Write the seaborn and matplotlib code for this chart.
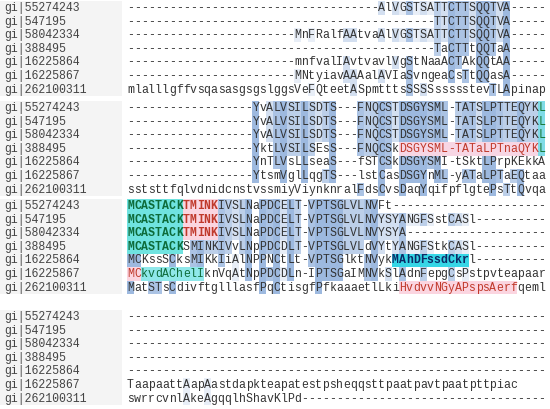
import matplotlib
matplotlib.use("Agg")
import matplotlib.pyplot as plt
from matplotlib.patches import Rectangle
from collections import Counter
import seaborn as sns

names = ["gi|55274243", "gi|547195", "gi|58042334", "gi|388495",
         "gi|16225864", "gi|16225867", "gi|262100311"]

block1 = [
    "-" * 36 + "AlVGSTSATTCTTSQQTVA-----",
    "-" * 44 + "TTCTTSQQTVA-----",
    "-" * 24 + "MnFRalfAAtvaAlVGSTSATTCTTSQQTVA-----",
    "-" * 44 + "TaCTTtQQTaA-----",
    "-" * 24 + "mnfvalIAvtvavlVgStNaaACTAkQQtAA-----",
    "-" * 24 + "MNtyiavAAAalAVIaSvngeaCsTtQQasA-----",
    "mlalllgffvsqasasgsgslggsVeFQteetASpmtttsSSSSssssstevTLApinap",
]
block2 = [
    "-" * 18 + "YvALVSILSDTS---FNQCSTDSGYSML-TATSLPTTEQYKL",
    "-" * 18 + "YvALVSILSDTS---FNQCSTDSGYSML-TATSLPTTEQYKL",
    "-" * 18 + "YvALVSILSDTS---FNQCSTDSGYSML-TATSLPTTEQYKL",
    "-" * 18 + "YktLVSILSEsS---FNQCSkDSGYSML-TATaLPTnaQYKL",
    "-" * 18 + "YnTLVsLLseaS---fSTCSkDSGYSMI-tSktLPrpKEkkA",
    "-" * 18 + "YtsmVglLqgTS---lstCasDSGYnML-yATaLPTaEQtaa",
    "sststtfqlvdnidcnstvssmiyViynknralFdsCvsDaqYqifpflgtePsTtQvqa",
]
block3 = [
    "MCASTACKTMINKIVSLNaPDCELT-VPTSGLVLNVFt" + "-" * 22,
    "MCASTACKTMINKIVSLNaPDCELT-VPTSGLVLNVYSYANGFSstCASl" + "-" * 10,
    "MCASTACKTMINKIVSLNaPDCELT-VPTSGLVLNVYSYA" + "-" * 20,
    "MCASTACKSMINKIVvLNpPDCDLT-VPTSGLVLdVYtYANGFStkCASl" + "-" * 10,
    "MCKssSCksMIKkIiAlNPPNCtLt-VPTSGlktNVykMAhDFssdCkrl" + "-" * 10,
    "MCkvdAChelIknVqAtNpPDCDLn-IPTSGaIMNVkSlAdnFepgCsPstpvteapaar",
    "MatSTsCdivftglllasfPqCtisgfPfkaaaetlLkiHvdvvNGyAPspsAerfqeml",
]
block4 = [
    "-" * 60, "-" * 60, "-" * 60, "-" * 60, "-" * 60,
    "TaapaattAapAastdapkteapatestpsheqqsttpaatpavtpaatpttpiac",
    "swrrcvnlAkeAgqqlhShavKlPd" + "-" * 35,
]
blocks = [block1, block2, block3, block4]
block_top = [8, 108, 206, 317]

# special motif highlights: (block, row, col_start, col_end, background, text colour, bold)
motifs = [
    (1, 3, 39, 59, "#f7d6e4", "#c0392b", False),
    (1, 0, 59, 60, "#7fdbe6", "#1a7a3a", False),
    (1, 1, 59, 60, "#7fdbe6", "#1a7a3a", False),
    (1, 2, 59, 60, "#7fdbe6", "#1a7a3a", False),
    (1, 3, 59, 60, "#7fdbe6", "#1a7a3a", False),
    (2, 0, 0, 8, "#6fe3e0", "#0d6b3a", True),
    (2, 1, 0, 8, "#6fe3e0", "#0d6b3a", True),
    (2, 2, 0, 8, "#6fe3e0", "#0d6b3a", True),
    (2, 3, 0, 8, "#6fe3e0", "#0d6b3a", True),
    (2, 0, 8, 13, "#fbd5e0", "#c0392b", True),
    (2, 1, 8, 13, "#fbd5e0", "#c0392b", True),
    (2, 2, 8, 13, "#fbd5e0", "#c0392b", True),
    (2, 4, 38, 49, "#36d6e6", "#0b2a66", True),
    (2, 5, 0, 2, "#fbd5e0", "#c0392b", False),
    (2, 5, 2, 11, "#8fe8ea", "#0d6b3a", False),
    (2, 6, 39, 56, "#fbd5e0", "#c0392b", False),
]

sns.set_theme(style="white")
plt.rcParams["font.family"] = ["Liberation Mono", "DejaVu Sans Mono"]

fig = plt.figure(figsize=(5.5, 4.09), dpi=100)
ax = fig.add_axes([0, 0, 1, 1])
ax.set_xlim(0, 550)
ax.set_ylim(409, 0)
ax.axis("off")

x0 = 127.0
cw = 6.97
rh = 13.6
fs = 8.3

shades = {2: "#e8eef7", 3: "#d3dff0", 4: "#bccfe9", 5: "#abc3e4", 6: "#9db9df", 7: "#9db9df"}

for b, rows in enumerate(blocks):
    top = block_top[b]
    ax.add_patch(Rectangle((0, top - rh / 2), 122, rh * len(rows),
                           color="#f4f4f4", lw=0, zorder=0))
    width = max(len(r) for r in rows)
    for c in range(width):
        col = [r[c] if c < len(r) else "-" for r in rows]
        cnt = Counter(ch for ch in col if ch.isupper())
        for i, ch in enumerate(col):
            if ch.isupper() and cnt[ch] >= 2:
                ax.add_patch(Rectangle((x0 + c * cw, top + i * rh - rh / 2), cw, rh,
                                       color=shades[cnt[ch]], lw=0, zorder=1))
    for i, r in enumerate(rows):
        y = top + i * rh
        ax.text(4, y, names[i], fontsize=fs, va="center", color="#444444")
        special = {}
        for mb, mr, cs, ce, bg, fc, bold in motifs:
            if mb == b and mr == i:
                ax.add_patch(Rectangle((x0 + cs * cw, y - rh / 2), (ce - cs) * cw, rh,
                                       color=bg, lw=0, zorder=2))
                for c in range(cs, ce):
                    special[c] = (fc, bold)
        for c, ch in enumerate(r):
            fc, bold = special.get(c, ("#333333", False))
            ax.text(x0 + c * cw + cw / 2, y, ch, fontsize=fs, ha="center", va="center",
                    color=fc, fontweight="bold" if bold else "normal", zorder=3)

fig.savefig("out.png", dpi=100)
